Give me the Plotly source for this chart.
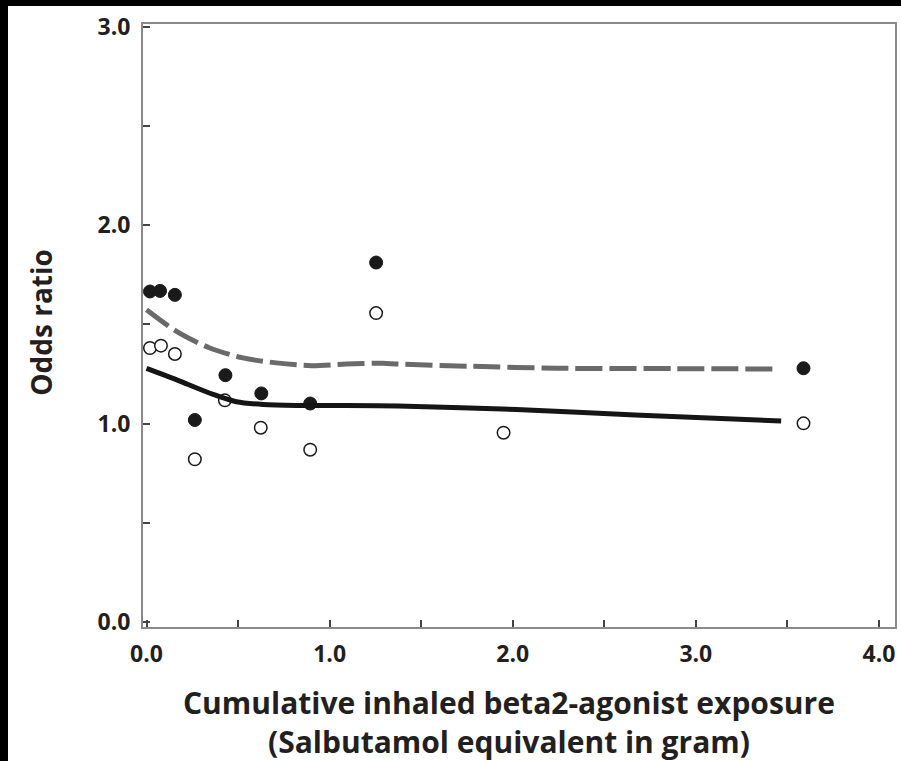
import plotly.graph_objects as go

# Data
filled_x = [0.019, 0.074, 0.155, 0.264, 0.431, 0.627, 0.894, 1.254, 3.588]
filled_y = [1.666, 1.669, 1.649, 1.018, 1.244, 1.152, 1.101, 1.812, 1.279]

open_x = [0.019, 0.079, 0.155, 0.264, 0.428, 0.624, 0.894, 1.254, 1.950, 3.588]
open_y = [1.381, 1.393, 1.351, 0.820, 1.117, 0.979, 0.868, 1.557, 0.954, 1.001]

dashed_x = [0.0, 0.164, 0.346, 0.527, 0.709, 0.900, 1.090, 1.290, 1.374, 1.762, 2.236, 2.883, 3.433]
dashed_y = [1.574, 1.465, 1.381, 1.331, 1.306, 1.292, 1.300, 1.304, 1.300, 1.289, 1.279, 1.277, 1.275]

solid_x = [0.0, 0.182, 0.364, 0.491, 0.636, 0.818, 1.090, 1.374, 2.020, 2.668, 3.466]
solid_y = [1.278, 1.214, 1.147, 1.110, 1.096, 1.091, 1.091, 1.088, 1.071, 1.043, 1.013]

x_tickvals = [0, 0.5, 1, 1.5, 2, 2.5, 3, 3.5, 4]
x_ticktext = ["0.0", "", "1.0", "", "2.0", "", "3.0", "", "4.0"]
y_tickvals = [0, 0.5, 1, 1.5, 2, 2.5, 3]
y_ticktext = ["0.0", "", "1.0", "", "2.0", "", "3.0"]

x_title = "Cumulative inhaled beta2-agonist exposure<br>(Salbutamol equivalent in gram)"
y_title = "Odds ratio"

FONT = "'Open Sans', Lato, sans-serif"
TXT = "#231f20"

fig = go.Figure()

fig.add_trace(go.Scatter(
    x=filled_x, y=filled_y, mode="markers",
    marker=dict(symbol="circle", size=13, color="#1a1a1a",
                line=dict(color="#1a1a1a", width=1)),
    hoverinfo="skip", showlegend=False))

fig.add_trace(go.Scatter(
    x=open_x, y=open_y, mode="markers",
    marker=dict(symbol="circle", size=12.5, color="white",
                line=dict(color="#1a1a1a", width=1.5)),
    hoverinfo="skip", showlegend=False))

fig.add_trace(go.Scatter(
    x=dashed_x, y=dashed_y, mode="lines",
    line=dict(color="#6a6a6a", width=5, dash="27px,7px", shape="spline", smoothing=0.8),
    hoverinfo="skip", showlegend=False))

fig.add_trace(go.Scatter(
    x=solid_x, y=solid_y, mode="lines",
    line=dict(color="#151515", width=5, shape="spline", smoothing=0.8),
    hoverinfo="skip", showlegend=False))

# page offset of the figure (body margin set below)
OX, OY = 8, 6
W, H = 901 - OX, 761 - OY
# plot area in page pixels
PL, PR, PT, PB = 143, 897, 21.5, 626.7
L, R, T, B = PL - OX, W - (PR - OX), PT - OY, H - (PB - OY)
pw, ph = PR - PL, PB - PT

def px(xpix):
    return (xpix - PL) / pw

def py(ypix):
    return (PB - ypix) / ph

axis_common = dict(
    showline=True, linecolor="#8a8a8a", linewidth=2, mirror=True,
    ticks="inside", ticklen=7, tickwidth=1.5, tickcolor="#444",
    showgrid=False, zeroline=False,
    tickfont=dict(family=FONT, size=23, color=TXT, weight="bold"),
)

fig.update_xaxes(range=[-0.0191, 4.0877], tickvals=x_tickvals, ticktext=x_ticktext,
                 ticklabelstandoff=5, **axis_common)
fig.update_yaxes(range=[-0.026, 3.015], tickvals=y_tickvals, ticktext=y_ticktext,
                 ticklabelstandoff=6, **axis_common)

fig.update_layout(
    width=W, height=H,
    margin=dict(l=L, r=R, t=T, b=B, pad=0),
    paper_bgcolor="white", plot_bgcolor="white",
    font=dict(family=FONT, color=TXT),
    annotations=[
        dict(text=y_title, textangle=-90, xref="paper", yref="paper",
             x=px(41), y=py(321), xanchor="center", yanchor="middle", showarrow=False,
             font=dict(family=FONT, size=28, color=TXT, weight="bold")),
        dict(text=x_title, xref="paper", yref="paper",
             x=px(510), y=py(722), xanchor="center", yanchor="middle", showarrow=False,
             align="center",
             font=dict(family=FONT, size=30, color=TXT, weight="bold")),
    ],
)

fig.write_html(
    "out.html",
    post_script="document.body.style.background='black';document.body.style.margin='6px 0 0 8px';",
)
